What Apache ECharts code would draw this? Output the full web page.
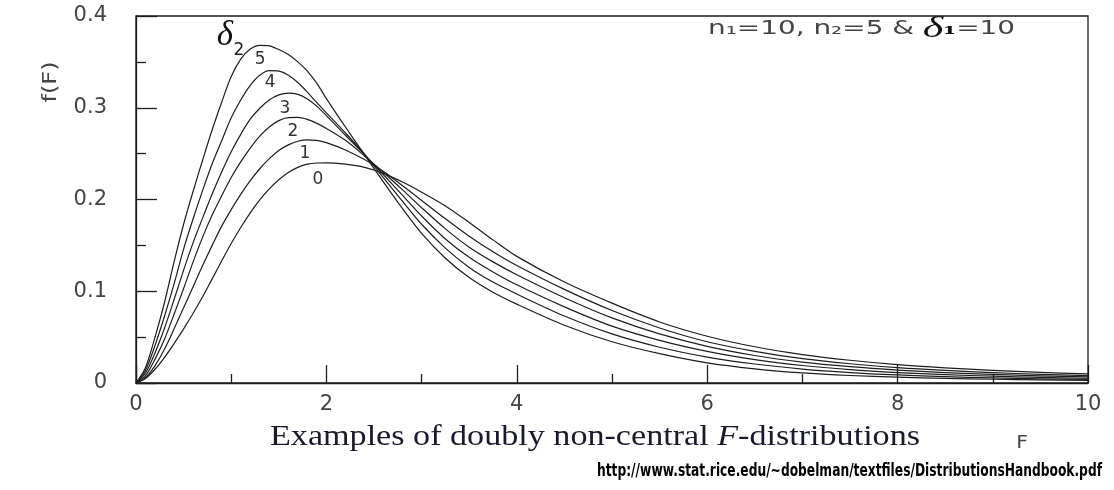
<!DOCTYPE html>
<html><head><meta charset="utf-8">
<script src="https://cdn.jsdelivr.net/npm/echarts@6/dist/echarts.min.js"></script>
<style>html,body{margin:0;padding:0;background:#fff}#c{width:1114px;height:490px}</style>
</head><body><div id="c"></div>
<script>
// ---- data ----
const xs = [0,0.1,0.2,0.3,0.4,0.5,0.6,0.7,0.8,0.9,1.0,1.1,1.2,1.3,1.4,1.5,1.6,1.7,1.8,1.9,2.0,
            2.2,2.4,2.6,2.8,3.0,3.25,3.5,3.75,4.0,4.5,5.0,5.5,6.0,6.5,7.0,7.5,8.0,8.5,9.0,9.5,10.0];
const delta2_0 = [0,0.005,0.015,0.028,0.043,0.059,0.076,0.094,0.1135,0.133,0.152,0.1695,0.1855,0.1995,0.2115,0.2215,0.2295,0.235,0.2385,0.2398,0.240,
            0.2385,0.235,0.2285,0.219,0.208,0.193,0.175,0.156,0.138,0.110,0.087,0.0665,0.051,0.0395,0.031,0.0248,0.020,0.0165,0.0137,0.0116,0.0099];
const delta2_1 = [0,0.006,0.019,0.037,0.059,0.082,0.105,0.128,0.150,0.171,0.189,0.2055,0.2205,0.2335,0.2445,0.2535,0.2595,0.2635,0.265,0.2645,0.262,
            0.254,0.2435,0.2305,0.215,0.199,0.179,0.160,0.143,0.128,0.102,0.079,0.060,0.045,0.0345,0.0265,0.021,0.0168,0.0137,0.0113,0.0095,0.0081];
const delta2_2 = [0,0.008,0.026,0.048,0.075,0.103,0.132,0.159,0.183,0.204,0.224,0.241,0.256,0.269,0.279,0.286,0.2893,0.2895,0.2873,0.283,0.2775,
            0.2645,0.2475,0.2295,0.2105,0.191,0.168,0.148,0.132,0.118,0.093,0.071,0.0535,0.040,0.030,0.0228,0.0178,0.0141,0.0114,0.0093,0.0078,0.0066];
const delta2_3 = [0,0.011,0.033,0.060,0.091,0.123,0.153,0.180,0.206,0.230,0.252,0.271,0.2875,0.2995,0.3085,0.314,0.316,0.3145,0.3095,0.3015,0.2915,
            0.270,0.249,0.227,0.2045,0.182,0.157,0.137,0.121,0.107,0.083,0.062,0.0465,0.0345,0.0255,0.0191,0.0146,0.0114,0.0091,0.0074,0.0061,0.0052];
const delta2_4 = [0,0.014,0.041,0.073,0.108,0.146,0.179,0.210,0.239,0.264,0.289,0.3085,0.3245,0.3355,0.3405,0.340,0.3355,0.3275,0.317,0.3055,0.2945,
            0.2725,0.2495,0.2235,0.198,0.173,0.147,0.126,0.110,0.097,0.073,0.0535,0.039,0.0283,0.0207,0.0152,0.0114,0.0088,0.0069,0.0056,0.0046,0.0039];
const delta2_5 = [0,0.017,0.050,0.088,0.132,0.173,0.209,0.243,0.276,0.306,0.334,0.353,0.364,0.368,0.3675,0.3635,0.358,0.350,0.340,0.3265,0.310,
            0.279,0.249,0.219,0.190,0.163,0.136,0.115,0.099,0.086,0.063,0.045,0.032,0.022,0.0155,0.011,0.0082,0.0063,0.005,0.0041,0.0034,0.0028];
const curveNames = ['0','1','2','3','4','5'];
const curves = [delta2_0, delta2_1, delta2_2, delta2_3, delta2_4, delta2_5];
const xTickLabels = ['0','2','4','6','8','10'];
const yTickLabels = ['0','0.1','0.2','0.3','0.4'];

// label anchors (data coordinates) for the curve numbers
const curveLabelAnchors = [[1.912,0.2215],[1.775,0.2500],[1.649,0.2745],[1.565,0.2995],[1.408,0.3270],[1.303,0.3520]];

const INK = '#1e1e1e';
const chart = echarts.init(document.getElementById('c'), null, {renderer:'canvas'});

function tw(str, font){
  const c = tw.c || (tw.c = document.createElement('canvas').getContext('2d'));
  c.font = font; return c.measureText(str).width;
}

const option = {
  animation:false,
  backgroundColor:'#ffffff',
  grid:{left:136,right:26,top:16,bottom:107,show:true,borderColor:INK,borderWidth:1.3,backgroundColor:'transparent'},
  xAxis:{
    type:'value',min:0,max:10,interval:2,
    axisLine:{show:true,onZero:false,lineStyle:{color:INK,width:1.3}},
    axisTick:{show:true,inside:true,length:18,lineStyle:{color:INK,width:1.3}},
    minorTick:{show:true,splitNumber:2,length:9,lineStyle:{color:INK,width:1.3}},
    splitLine:{show:false},
    axisLabel:{margin:11,fontFamily:'DejaVu Sans',fontSize:21,color:'#444',
      formatter:v=>xTickLabels[Math.round(v/2)]}
  },
  yAxis:{
    type:'value',min:0,max:0.4,interval:0.1,
    axisLine:{show:true,onZero:false,lineStyle:{color:INK,width:1.3}},
    axisTick:{show:true,inside:true,length:21,lineStyle:{color:INK,width:1.3}},
    minorTick:{show:true,splitNumber:2,length:10,lineStyle:{color:INK,width:1.3}},
    splitLine:{show:false},
    axisLabel:{margin:29,fontFamily:'DejaVu Sans',fontSize:21,color:'#444',
      formatter:v=>yTickLabels[Math.round(v*10)]}
  },
  series: curves.map((arr,i)=>({
    name:'δ2='+curveNames[i], type:'line', showSymbol:false, smooth:0.3,
    data: xs.map((x,j)=>[x,arr[j]]),
    lineStyle:{color:INK,width:1.2,join:'round'}, silent:true
  }))
};
chart.setOption(option);

// ---- annotations ----
const g = [];
curveNames.forEach((n,i)=>{
  const p = chart.convertToPixel({gridIndex:0}, curveLabelAnchors[i]);
  g.push({type:'text',x:p[0],y:p[1],style:{text:n,font:'17px "DejaVu Sans"',fill:'#333',align:'center',verticalAlign:'middle',textAlign:'center',textVerticalAlign:'middle'}});
});
// delta_2 label
g.push({type:'text',x:225,y:36,style:{text:'δ',font:'italic 35px "Liberation Serif"',fill:'#111',align:'center',verticalAlign:'middle',textAlign:'center',textVerticalAlign:'middle'}});
g.push({type:'text',x:239,y:51,style:{text:'2',font:'17px "DejaVu Sans"',fill:'#222',align:'center',verticalAlign:'middle',textAlign:'center',textVerticalAlign:'middle'}});

// y-axis name f(F)
{
  const f='20px "DejaVu Sans"'; const s = 41/tw('f(F)',f);
  g.push({type:'text',x:51,y:82,rotation:Math.PI/2,scaleX:s,style:{text:'f(F)',font:f,fill:'#444',align:'center',verticalAlign:'middle',textAlign:'center',textVerticalAlign:'middle'}});
}
// x-axis name F
g.push({type:'text',x:1022,y:444,scaleX:1.2,style:{text:'F',font:'17px "DejaVu Sans"',fill:'#444',align:'center',verticalAlign:'middle',textAlign:'center',textVerticalAlign:'middle'}});

// parameter annotation
{
  const fa='19px "DejaVu Sans"', fd='italic 30px "Liberation Serif"', fb='bold 20px "DejaVu Serif"';
  const w = tw('n₁=10, n₂=5 & ',fa)+tw('δ',fd)+tw('₁',fb)+tw('=10',fa);
  const s = 307/w;
  g.push({type:'text',x:708,y:29,scaleX:s,style:{
    text:'{a|n₁=10, n₂=5 & }{d|δ}{b|₁}{a|=10}',align:'left',verticalAlign:'middle',textAlign:'left',textVerticalAlign:'middle',
    rich:{a:{fontFamily:'DejaVu Sans',fontSize:19,fill:'#444',color:'#444'},
          d:{fontFamily:'Liberation Serif',fontStyle:'italic',fontSize:30,fill:'#111',color:'#111'},
          b:{fontFamily:'DejaVu Serif',fontWeight:'bold',fontSize:20,fill:'#111',color:'#111'}}
  }});
}
// caption
{
  const fr='30px "Liberation Serif"', fi='italic 30px "Liberation Serif"';
  const w = tw('Examples of doubly non-central ',fr)+tw('F',fi)+tw('-distributions',fr);
  const s = 650/w;
  g.push({type:'text',x:595,y:437,scaleX:s,style:{
    text:'{r|Examples of doubly non-central }{i|F}{r|-distributions}',align:'center',verticalAlign:'middle',textAlign:'center',textVerticalAlign:'middle',
    rich:{r:{fontFamily:'Liberation Serif',fontSize:30,fill:'#1a1a2e',color:'#1a1a2e'},
          i:{fontFamily:'Liberation Serif',fontStyle:'italic',fontSize:30,fill:'#1a1a2e',color:'#1a1a2e'}}
  }});
}
// source URL
{
  const fu='bold 17px "DejaVu Sans"'; const txt='http://www.stat.rice.edu/~dobelman/textfiles/DistributionsHandbook.pdf';
  const s = 505/tw(txt,fu);
  g.push({type:'text',x:1102,y:472,scaleX:s,style:{text:txt,font:fu,fill:'#000',align:'right',verticalAlign:'middle',textAlign:'right',textVerticalAlign:'middle'}});
}
chart.setOption({graphic:g});
</script></body></html>
